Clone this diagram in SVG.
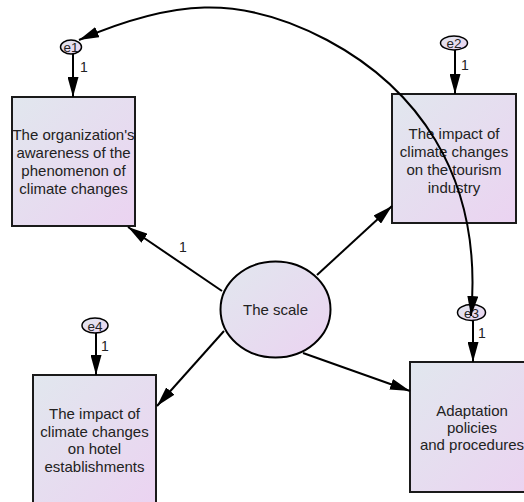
<svg xmlns="http://www.w3.org/2000/svg" width="524" height="502" viewBox="0 0 524 502">
<defs>
<linearGradient id="g" x1="0" y1="0" x2="1" y2="1">
<stop offset="0" stop-color="#e1e7ee"/>
<stop offset="1" stop-color="#ebd3f1"/>
</linearGradient>
<marker id="arr" viewBox="0 0 20 11" refX="20" refY="5.5" markerWidth="20" markerHeight="11" markerUnits="userSpaceOnUse" orient="auto-start-reverse">
<path d="M0,0 L20,5.5 L0,11 z" fill="#000"/>
</marker>
</defs>
<style>
.box{fill:url(#g);stroke:#1a1a1a;stroke-width:2}
.lat{fill:url(#g);stroke:#000;stroke-width:2}
.err{fill:url(#g);stroke:#000;stroke-width:1.5}
.t{font-family:"Liberation Sans",Arial,sans-serif;font-size:15px;fill:#222;text-anchor:middle}
.e{font-family:"Liberation Sans",Arial,sans-serif;font-size:13.5px;fill:#222;text-anchor:middle}
.n{font-family:"Liberation Sans",Arial,sans-serif;font-size:14px;fill:#222}
.c{fill:none;stroke:#000;stroke-width:2}
</style>
<g id="box1">
<rect class="box" x="12" y="97" width="123" height="129"/>
<text class="t" x="73.5" y="140">The organization's</text>
<text class="t" x="73.5" y="158">awareness of the</text>
<text class="t" x="73.5" y="176">phenomenon of</text>
<text class="t" x="73.5" y="194">climate changes</text>
</g>
<g id="box2">
<rect class="box" x="392" y="94" width="124" height="129"/>
<text class="t" x="454" y="139">The impact of</text>
<text class="t" x="454" y="157">climate changes</text>
<text class="t" x="454" y="175">on the tourism</text>
<text class="t" x="454" y="193">industry</text>
</g>
<g id="box3">
<rect class="box" x="410" y="362" width="124" height="130"/>
<text class="t" x="472" y="416">Adaptation</text>
<text class="t" x="472" y="433">policies</text>
<text class="t" x="472" y="450">and procedures</text>
</g>
<g id="box4">
<rect class="box" x="33" y="375" width="123" height="130"/>
<text class="t" x="94.5" y="419">The impact of</text>
<text class="t" x="94.5" y="436.7">climate changes</text>
<text class="t" x="94.5" y="454.4">on hotel</text>
<text class="t" x="94.5" y="472">establishments</text>
</g>
<g id="scale">
<ellipse class="lat" cx="275.5" cy="309.5" rx="55" ry="48"/>
<text class="t" x="275.5" y="315">The scale</text>
</g>
<g id="e1">
<ellipse class="err" cx="71" cy="47" rx="10.5" ry="7"/>
<text class="e" x="71" y="52">e1</text>
</g>
<g id="e2">
<ellipse class="err" cx="454" cy="43" rx="13.5" ry="7"/>
<text class="e" x="454" y="48">e2</text>
</g>
<g id="e3">
<ellipse class="err" cx="471.5" cy="312.5" rx="14" ry="8"/>
<text class="e" x="471.5" y="317.5">e3</text>
</g>
<g id="e4">
<ellipse class="err" cx="95" cy="325.5" rx="13" ry="7.5"/>
<text class="e" x="95" y="330.5">e4</text>
</g>
<g id="connectors">
<line class="c" x1="73" y1="54" x2="73" y2="97" marker-end="url(#arr)"/>
<line class="c" x1="455" y1="50" x2="455" y2="94" marker-end="url(#arr)"/>
<line class="c" x1="473" y1="320.5" x2="473" y2="362" marker-end="url(#arr)"/>
<line class="c" x1="96" y1="333" x2="96" y2="375" marker-end="url(#arr)"/>
<line class="c" x1="222" y1="291" x2="128" y2="227" marker-end="url(#arr)"/>
<line class="c" x1="317" y1="275" x2="392" y2="206" marker-end="url(#arr)"/>
<line class="c" x1="303" y1="353" x2="410" y2="391" marker-end="url(#arr)"/>
<line class="c" x1="224" y1="331" x2="157" y2="406" marker-end="url(#arr)"/>
<path class="c" d="M79,40 C171,0.6 239,-7 327,40 C410.8,84.7 484,170 471,316" marker-start="url(#arr)" marker-end="url(#arr)"/>
<text class="n" x="80" y="72">1</text>
<text class="n" x="461" y="70">1</text>
<text class="n" x="478" y="338">1</text>
<text class="n" x="101" y="351">1</text>
<text class="n" x="179" y="252">1</text>
</g>
</svg>
